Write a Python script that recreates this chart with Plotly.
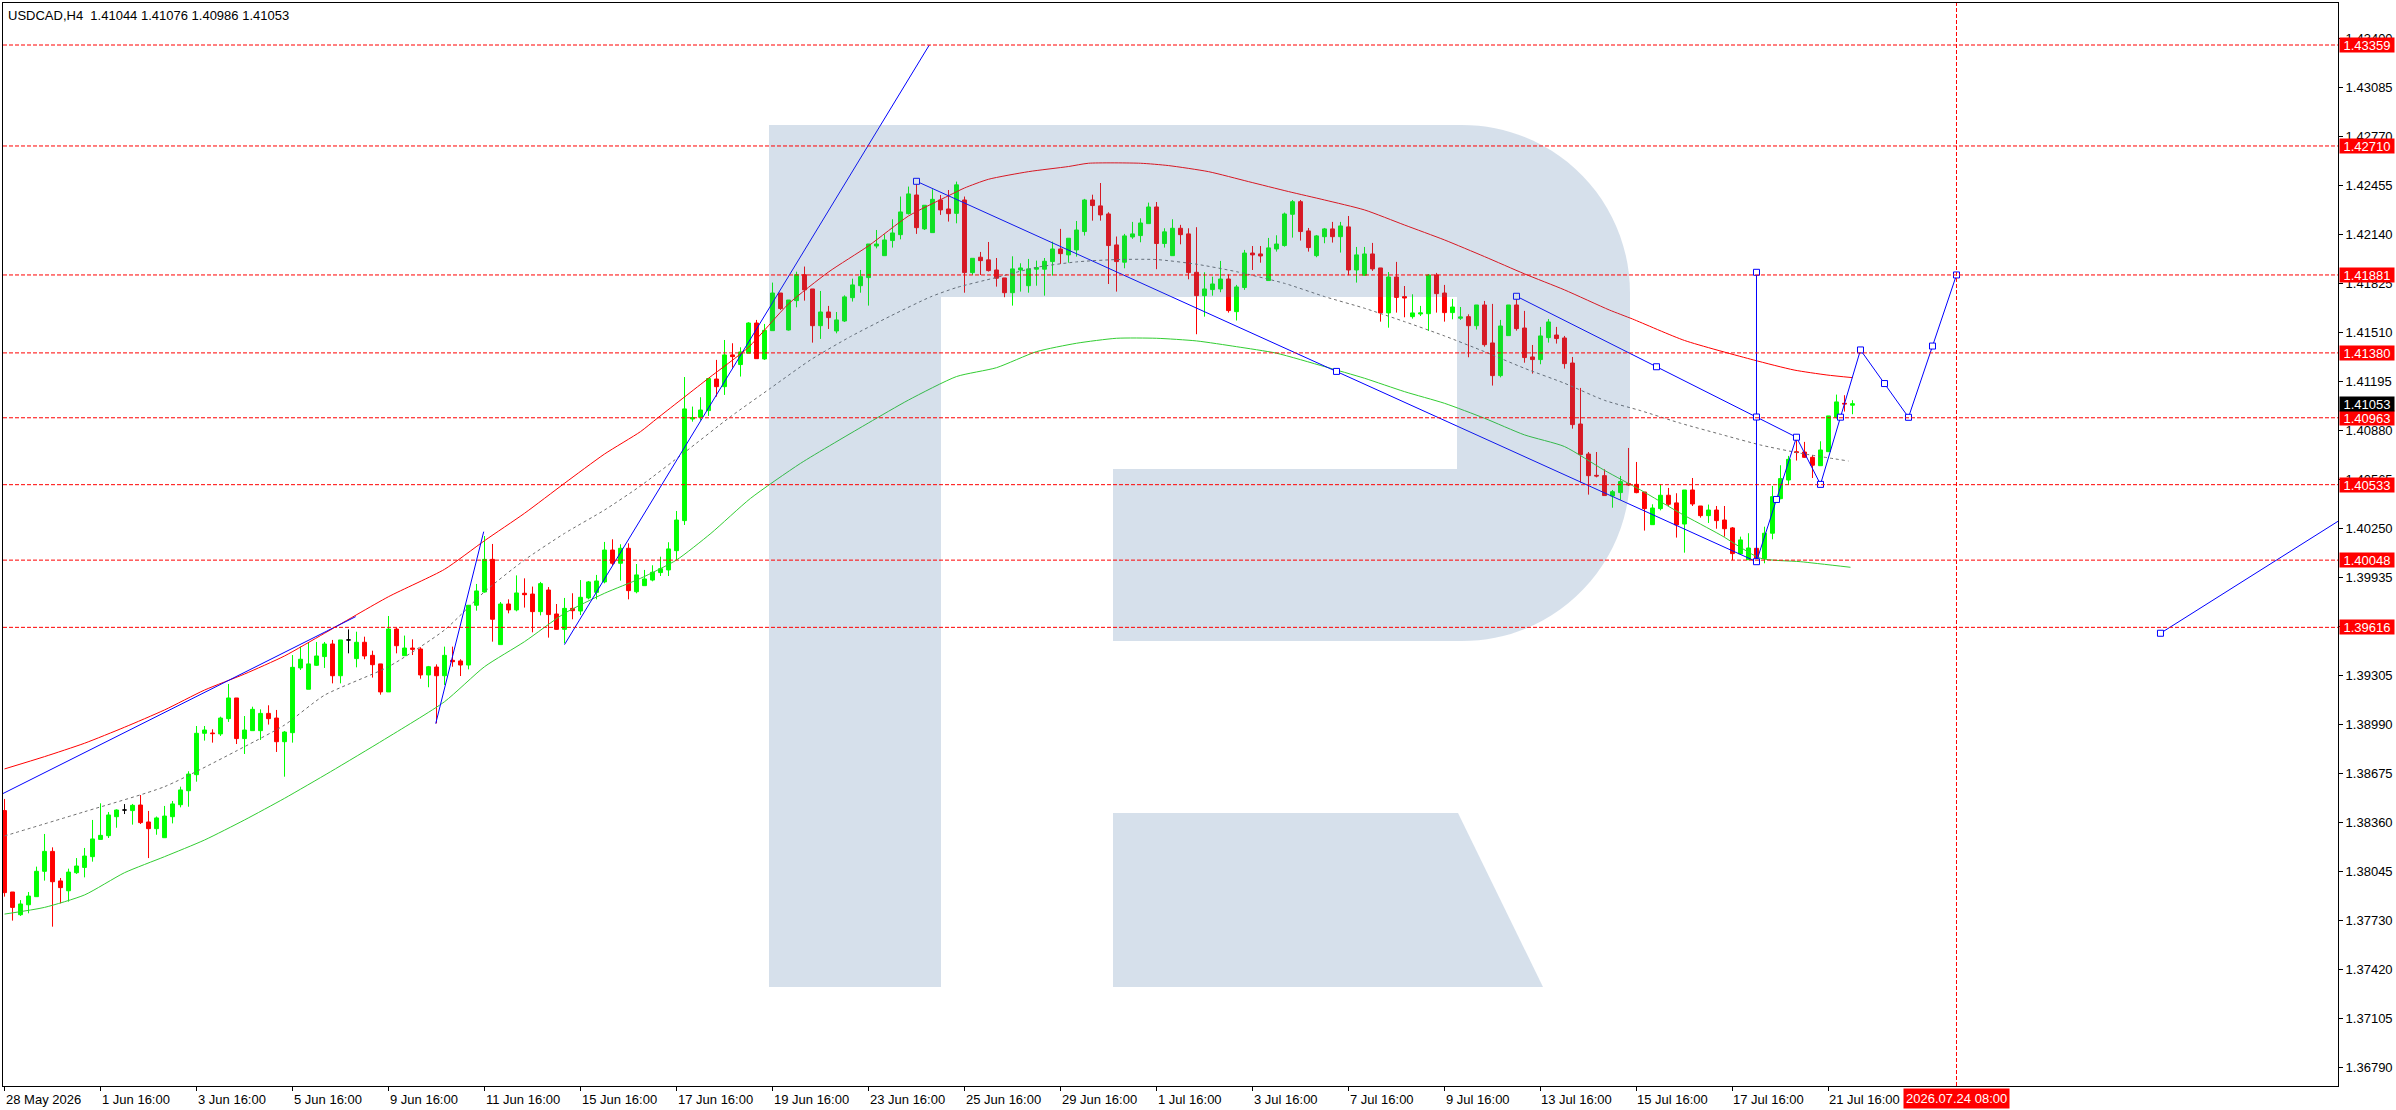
import plotly.graph_objects as go

# ---------------- canvas / layout geometry ----------------
W, H = 2396, 1110
ML, MR, MT, MB = 3, 58, 3, 24
FONT = "Liberation Sans, Arial, sans-serif"

# ---------------- data ----------------
symbol_header = "USDCAD,H4\u00a0\u00a01.41044 1.41076 1.40986 1.41053"

open_ = [1.38438, 1.37915, 1.37769, 1.37833, 1.37885, 1.38048, 1.38176, 1.37986, 1.37923, 1.38039,
         1.38073, 1.38142, 1.38253, 1.38277, 1.38399, 1.38442, 1.38438, 1.38474, 1.38365, 1.38322,
         1.38264, 1.38399, 1.38476, 1.38566, 1.38669, 1.38935, 1.38937, 1.38931, 1.39029, 1.39162,
         1.38901, 1.38952, 1.38952, 1.39063, 1.39033, 1.38881, 1.38939, 1.39355, 1.39218, 1.39372,
         1.39428, 1.39509, 1.39305, 1.39535, 1.39415, 1.39520, 1.39436, 1.39381, 1.39201, 1.39605,
         1.39434, 1.39483, 1.39477, 1.39310, 1.39361, 1.39305, 1.39404, 1.39400, 1.39374, 1.39758,
         1.39843, 1.40053, 1.39505, 1.39766, 1.39728, 1.39835, 1.39830, 1.39717, 1.39856, 1.39702,
         1.39603, 1.39738, 1.39721, 1.39805, 1.39841, 1.39908, 1.40113, 1.40028, 1.40124, 1.39845,
         1.39884, 1.39920, 1.39968, 1.39985, 1.40109, 1.40302, 1.40955, 1.40966, 1.41009, 1.41212,
         1.41163, 1.41367, 1.41305, 1.41378, 1.41572, 1.41341, 1.41523, 1.41765, 1.41527, 1.41716,
         1.41883, 1.41791, 1.41555, 1.41643, 1.41521, 1.41585, 1.41735, 1.41812, 1.41864, 1.42067,
         1.42005, 1.42102, 1.42140, 1.42275, 1.42395, 1.42177, 1.42153, 1.42363, 1.42305, 1.42277,
         1.42363, 1.41896, 1.41995, 1.41978, 1.41913, 1.41862, 1.41767, 1.41913, 1.41812, 1.41918,
         1.41918, 1.41967, 1.42048, 1.42010, 1.42042, 1.42160, 1.42363, 1.42325, 1.42273, 1.42074,
         1.41963, 1.42125, 1.42134, 1.42211, 1.42318, 1.42083, 1.42005, 1.42181, 1.42145, 1.41898,
         1.41748, 1.41787, 1.41791, 1.41855, 1.41645, 1.41800, 1.42022, 1.42016, 1.41845, 1.42048,
         1.42070, 1.42271, 1.42352, 1.42164, 1.42005, 1.42127, 1.42177, 1.42127, 1.42190, 1.41913,
         1.41879, 1.42016, 1.41926, 1.41637, 1.41868, 1.41742, 1.41613, 1.41630, 1.41632, 1.41881,
         1.41765, 1.41639, 1.41603, 1.41613, 1.41555, 1.41688, 1.41444, 1.41234, 1.41491, 1.41688,
         1.41540, 1.41354, 1.41337, 1.41478, 1.41495, 1.41476, 1.41315, 1.40923, 1.40730, 1.40593,
         1.40591, 1.40460, 1.40482, 1.40540, 1.40535, 1.40486, 1.40276, 1.40379, 1.40465, 1.40416,
         1.40280, 1.40499, 1.40396, 1.40334, 1.40370, 1.40306, 1.40255, 1.40088, 1.40051, 1.40124,
         1.40058, 1.40221, 1.40443, 1.40563, 1.40745, 1.40743, 1.40709, 1.40655, 1.40745, 1.40966,
         1.41056, 1.41044]
high = [1.38513, 1.37915, 1.37863, 1.37915, 1.38078, 1.38288, 1.38202, 1.38005, 1.38065, 1.38133,
        1.38198, 1.38378, 1.38485, 1.38429, 1.38446, 1.38480, 1.38481, 1.38538, 1.38436, 1.38400,
        1.38468, 1.38500, 1.38592, 1.38691, 1.38982, 1.38982, 1.38961, 1.39042, 1.39252, 1.39162,
        1.39046, 1.39106, 1.39089, 1.39115, 1.39085, 1.38950, 1.39438, 1.39492, 1.39518, 1.39522,
        1.39522, 1.39535, 1.39535, 1.39603, 1.39588, 1.39556, 1.39466, 1.39381, 1.39689, 1.39612,
        1.39563, 1.39539, 1.39488, 1.39368, 1.39378, 1.39492, 1.39492, 1.39411, 1.39758, 1.39895,
        1.40203, 1.40152, 1.39779, 1.39796, 1.39950, 1.39931, 1.39878, 1.39908, 1.39875, 1.39766,
        1.39805, 1.39835, 1.39920, 1.39914, 1.39953, 1.40165, 1.40182, 1.40150, 1.40156, 1.40023,
        1.39985, 1.40015, 1.40070, 1.40163, 1.40364, 1.41225, 1.41035, 1.41095, 1.41215, 1.41335,
        1.41463, 1.41442, 1.41416, 1.41577, 1.41592, 1.41566, 1.41832, 1.41765, 1.41720, 1.41902,
        1.41935, 1.41791, 1.41778, 1.41682, 1.41643, 1.41750, 1.41857, 1.41913, 1.42080, 1.42170,
        1.42142, 1.42239, 1.42385, 1.42449, 1.42483, 1.42329, 1.42432, 1.42395, 1.42427, 1.42481,
        1.42385, 1.41988, 1.42029, 1.42093, 1.41990, 1.41862, 1.42001, 1.41956, 1.41984, 1.41973,
        1.41990, 1.42095, 1.42177, 1.42117, 1.42228, 1.42370, 1.42397, 1.42472, 1.42284, 1.42128,
        1.42145, 1.42222, 1.42245, 1.42346, 1.42350, 1.42181, 1.42239, 1.42203, 1.42181, 1.42188,
        1.41898, 1.41870, 1.41971, 1.41885, 1.41817, 1.42042, 1.42067, 1.42067, 1.42119, 1.42136,
        1.42282, 1.42363, 1.42363, 1.42183, 1.42138, 1.42183, 1.42222, 1.42222, 1.42260, 1.42061,
        1.42061, 1.42087, 1.41926, 1.41900, 1.41965, 1.41810, 1.41757, 1.41682, 1.41887, 1.41894,
        1.41817, 1.41727, 1.41675, 1.41628, 1.41688, 1.41714, 1.41695, 1.41592, 1.41688, 1.41757,
        1.41650, 1.41431, 1.41547, 1.41598, 1.41547, 1.41489, 1.41354, 1.41155, 1.40743, 1.40743,
        1.40632, 1.40499, 1.40589, 1.40769, 1.40679, 1.40486, 1.40407, 1.40533, 1.40512, 1.40478,
        1.40499, 1.40576, 1.40396, 1.40405, 1.40396, 1.40396, 1.40261, 1.40199, 1.40221, 1.40124,
        1.40263, 1.40525, 1.40658, 1.40718, 1.40833, 1.40808, 1.40722, 1.40812, 1.40975, 1.41112,
        1.41108, 1.41076]
low = [1.37885, 1.37731, 1.37761, 1.37778, 1.37885, 1.37988, 1.37692, 1.37842, 1.37853, 1.38031,
       1.38009, 1.38110, 1.38253, 1.38262, 1.38328, 1.38416, 1.38348, 1.38352, 1.38133, 1.38283,
       1.38264, 1.38356, 1.38459, 1.38463, 1.38624, 1.38888, 1.38875, 1.38918, 1.39008, 1.38866,
       1.38802, 1.38952, 1.38892, 1.38991, 1.38815, 1.38656, 1.38875, 1.39342, 1.39218, 1.39368,
       1.39355, 1.39256, 1.39256, 1.39449, 1.39359, 1.39411, 1.39293, 1.39183, 1.39201, 1.39449,
       1.39434, 1.39438, 1.39286, 1.39231, 1.38999, 1.39246, 1.39363, 1.39303, 1.39346, 1.39723,
       1.39839, 1.39524, 1.39505, 1.39706, 1.39719, 1.39743, 1.39584, 1.39693, 1.39550, 1.39599,
       1.39513, 1.39668, 1.39695, 1.39796, 1.39796, 1.39899, 1.40015, 1.39916, 1.39796, 1.39835,
       1.39884, 1.39912, 1.39946, 1.39946, 1.40049, 1.40274, 1.40938, 1.40945, 1.40975, 1.41099,
       1.41110, 1.41285, 1.41228, 1.41378, 1.41343, 1.41335, 1.41523, 1.41656, 1.41523, 1.41673,
       1.41716, 1.41446, 1.41470, 1.41534, 1.41506, 1.41579, 1.41710, 1.41767, 1.41684, 1.42052,
       1.42005, 1.42057, 1.42110, 1.42269, 1.42145, 1.42170, 1.42153, 1.42267, 1.42224, 1.42213,
       1.41767, 1.41881, 1.41881, 1.41903, 1.41806, 1.41738, 1.41684, 1.41774, 1.41767, 1.41812,
       1.41748, 1.41877, 1.41952, 1.41960, 1.41999, 1.42134, 1.42230, 1.42230, 1.41823, 1.41774,
       1.41924, 1.42113, 1.42091, 1.42211, 1.41918, 1.42057, 1.42005, 1.42078, 1.41853, 1.41500,
       1.41613, 1.41748, 1.41770, 1.41639, 1.41588, 1.41785, 1.41913, 1.41960, 1.41845, 1.42031,
       1.42063, 1.42121, 1.42102, 1.42031, 1.41995, 1.42085, 1.42089, 1.42025, 1.41879, 1.41832,
       1.41875, 1.41907, 1.41581, 1.41542, 1.41639, 1.41609, 1.41600, 1.41617, 1.41521, 1.41639,
       1.41581, 1.41596, 1.41592, 1.41352, 1.41530, 1.41420, 1.41170, 1.41223, 1.41491, 1.41523,
       1.41317, 1.41247, 1.41307, 1.41446, 1.41440, 1.41279, 1.40893, 1.40546, 1.40469, 1.40580,
       1.40463, 1.40385, 1.40435, 1.40525, 1.40478, 1.40238, 1.40276, 1.40368, 1.40396, 1.40193,
       1.40096, 1.40396, 1.40321, 1.40287, 1.40250, 1.40199, 1.40047, 1.40081, 1.40051, 1.40038,
       1.40028, 1.40182, 1.40439, 1.40531, 1.40688, 1.40705, 1.40576, 1.40655, 1.40745, 1.40958,
       1.41003, 1.40986]
close = [1.37911, 1.37816, 1.37838, 1.37889, 1.38048, 1.38176, 1.37981, 1.37943, 1.38043, 1.38082,
         1.38146, 1.38256, 1.38279, 1.38410, 1.38442, 1.38442, 1.38472, 1.38361, 1.38322, 1.38391,
         1.38403, 1.38481, 1.38571, 1.38673, 1.38935, 1.38956, 1.38933, 1.39033, 1.39162, 1.38901,
         1.38956, 1.39089, 1.39063, 1.39029, 1.38881, 1.38943, 1.39359, 1.39411, 1.39381, 1.39432,
         1.39509, 1.39305, 1.39535, 1.39535, 1.39520, 1.39432, 1.39376, 1.39201, 1.39605, 1.39498,
         1.39483, 1.39475, 1.39310, 1.39363, 1.39305, 1.39436, 1.39395, 1.39374, 1.39758, 1.39850,
         1.40053, 1.39668, 1.39766, 1.39728, 1.39837, 1.39826, 1.39717, 1.39897, 1.39698, 1.39603,
         1.39738, 1.39723, 1.39809, 1.39908, 1.39914, 1.40113, 1.40028, 1.40124, 1.39852, 1.39953,
         1.39927, 1.39970, 1.39993, 1.40120, 1.40306, 1.41020, 1.40964, 1.41013, 1.41215, 1.41163,
         1.41367, 1.41356, 1.41386, 1.41572, 1.41343, 1.41525, 1.41765, 1.41665, 1.41720, 1.41883,
         1.41785, 1.41555, 1.41643, 1.41607, 1.41592, 1.41740, 1.41817, 1.41870, 1.42080, 1.42080,
         1.42106, 1.42151, 1.42286, 1.42402, 1.42185, 1.42329, 1.42367, 1.42299, 1.42275, 1.42460,
         1.41896, 1.41988, 1.41973, 1.41909, 1.41860, 1.41767, 1.41920, 1.41926, 1.41920, 1.41928,
         1.41969, 1.42048, 1.42018, 1.42117, 1.42170, 1.42363, 1.42327, 1.42267, 1.42070, 1.41967,
         1.42132, 1.42145, 1.42215, 1.42318, 1.42083, 1.42158, 1.42181, 1.42140, 1.41896, 1.41748,
         1.41791, 1.41823, 1.41855, 1.41652, 1.41804, 1.42022, 1.42010, 1.42003, 1.42055, 1.42080,
         1.42273, 1.42352, 1.42160, 1.42057, 1.42132, 1.42177, 1.42127, 1.42196, 1.41913, 1.42010,
         1.42016, 1.41920, 1.41637, 1.41868, 1.41737, 1.41733, 1.41637, 1.41637, 1.41881, 1.41761,
         1.41639, 1.41675, 1.41611, 1.41555, 1.41688, 1.41433, 1.41234, 1.41553, 1.41688, 1.41536,
         1.41350, 1.41337, 1.41489, 1.41579, 1.41472, 1.41311, 1.40919, 1.40726, 1.40591, 1.40589,
         1.40463, 1.40488, 1.40553, 1.40531, 1.40482, 1.40379, 1.40383, 1.40465, 1.40407, 1.40274,
         1.40499, 1.40409, 1.40334, 1.40370, 1.40302, 1.40250, 1.40090, 1.40178, 1.40126, 1.40060,
         1.40221, 1.40456, 1.40572, 1.40696, 1.40740, 1.40709, 1.40658, 1.40756, 1.40975, 1.41065,
         1.41052, 1.41053]
doji_bars = [15, 43]

# time axis (bar index -> label)
time_tick_bars = [0, 12, 24, 36, 48, 60, 72, 84, 96, 108, 120, 132, 144, 156, 168, 180, 192, 204, 216, 228]
time_tick_labels = ["28 May 2026", "1 Jun 16:00", "3 Jun 16:00", "5 Jun 16:00", "9 Jun 16:00",
                    "11 Jun 16:00", "15 Jun 16:00", "17 Jun 16:00", "19 Jun 16:00", "23 Jun 16:00",
                    "25 Jun 16:00", "29 Jun 16:00", "1 Jul 16:00", "3 Jul 16:00", "7 Jul 16:00",
                    "9 Jul 16:00", "13 Jul 16:00", "15 Jul 16:00", "17 Jul 16:00", "21 Jul 16:00"]
target_bar = 244
target_label = "2026.07.24 08:00"

# price axis
price_tick_labels = ["1.43400", "1.43085", "1.42770", "1.42455", "1.42140", "1.41825", "1.41510",
                     "1.41195", "1.40880", "1.40565", "1.40250", "1.39935", "1.39620", "1.39305",
                     "1.38990", "1.38675", "1.38360", "1.38045", "1.37730", "1.37420", "1.37105",
                     "1.36790"]
price_range = [1.36668, 1.43629]
bar_range = [-0.19, 291.69]

levels = [1.43359, 1.42710, 1.41881, 1.41380, 1.40963, 1.40533, 1.40048, 1.39616]
last_price = 1.41053

# moving averages (sampled from chart)
ma_red_bar = [0, 5, 10, 15, 20, 25, 30, 35, 40, 48, 55, 60, 65, 70, 75, 79.5, 81.6, 88, 93, 98, 103,
              108, 113, 118, 120, 123, 128, 133, 135.5, 142, 145.5, 150.5, 155.5, 160.5, 165, 170,
              175, 180, 185, 190, 195, 200.6, 203.5, 210, 218.6, 223.7, 227.8, 231]
ma_red_val = [1.38706, 1.38785, 1.38871, 1.38974, 1.39085, 1.39213, 1.39316, 1.39432, 1.39578,
              1.39813, 1.39989, 1.40173, 1.40349, 1.40542, 1.40730, 1.40874, 1.40960, 1.41217,
              1.41416, 1.41695, 1.41900, 1.42068, 1.42260, 1.42390, 1.42440, 1.42496, 1.42545,
              1.42578, 1.42599, 1.42599, 1.42584, 1.42545, 1.42481, 1.42417, 1.42363, 1.42299,
              1.42202, 1.42106, 1.41999, 1.41888, 1.41785, 1.41656, 1.41598, 1.41460, 1.41335,
              1.41270, 1.41238, 1.41221]
ma_grey_bar = [0, 10, 20, 30, 35, 40, 48, 55, 60, 65, 70, 75, 79.5, 85, 90.75, 95.75, 100.75, 105.75,
               110.75, 115.75, 119, 124, 129, 134, 139, 144, 149, 154, 160, 165, 170, 175, 180, 185,
               190, 195, 200, 204.5, 209.5, 214.5, 219.5, 224.5, 230.5]
ma_grey_val = [1.38275, 1.38431, 1.38592, 1.38849, 1.38988, 1.39180, 1.39363, 1.39599, 1.39845,
               1.40049, 1.40220, 1.40370, 1.40525, 1.40740, 1.40970, 1.41153, 1.41335, 1.41485,
               1.41617, 1.41740, 1.41800, 1.41865, 1.41930, 1.41965, 1.41980, 1.41980, 1.41950,
               1.41902, 1.41827, 1.41742, 1.41667, 1.41581, 1.41489, 1.41388, 1.41281, 1.41185,
               1.41075, 1.41009, 1.40928, 1.40857, 1.40788, 1.40735, 1.40685]
ma_green_bar = [0, 5, 10, 15, 20, 25, 30, 35, 40.75, 47.5, 55, 60, 65, 70, 75, 79.5, 84, 88.3, 93.25,
                99.5, 108, 113, 119, 124, 129, 134, 139, 144, 149, 154, 159, 165, 170, 175, 180, 185,
                190, 195, 200, 204.5, 209.5, 214.5, 219.5, 224.5, 230.75]
ma_green_val = [1.37773, 1.37816, 1.37896, 1.38039, 1.38142, 1.38249, 1.38378, 1.38517, 1.38688,
                1.38896, 1.39138, 1.39363, 1.39524, 1.39706, 1.39835, 1.39931, 1.40049, 1.40220,
                1.40445, 1.40670, 1.40930, 1.41077, 1.41228, 1.41285, 1.41388, 1.41442, 1.41474,
                1.41474, 1.41457, 1.41420, 1.41378, 1.41292, 1.41217, 1.41131, 1.41056, 1.40960,
                1.40853, 1.40778, 1.40625, 1.40499, 1.40349, 1.40210, 1.40060, 1.40038, 1.40002]

# drawn analysis objects (bar, price)
trend_up_bar, trend_up_val = [-1, 43.9], [1.38527, 1.39685]
impulse_bar, impulse_val = [53.9, 59.9], [1.38997, 1.40231]
trend_steep_bar, trend_steep_val = [70, 115.6], [1.39505, 1.43359]
chan_low_bar, chan_low_val = [114, 219], [1.42483, 1.40038]
chan_up_bar, chan_up_val = [189, 224], [1.41744, 1.40838]
vert_bar, vert_val = [219, 219], [1.40038, 1.41898]
forecast_bar = [219, 224, 227, 232, 238, 244]
forecast_val = [1.40038, 1.40838, 1.40535, 1.41399, 1.40966, 1.41881]
far_bar, far_val = [269.5, 291.7], [1.39578, 1.40298]
anchor_bar = [114, 166.5, 219, 189, 206.5, 224, 219, 219, 221.5, 227, 229.5, 232, 235, 238, 241, 244, 269.5]
anchor_val = [1.42483, 1.41261, 1.40038, 1.41744, 1.41291, 1.40838, 1.40968, 1.41898, 1.40438,
              1.40535, 1.40967, 1.41399, 1.41183, 1.40966, 1.41424, 1.41881, 1.39578]

# ---------------- figure ----------------
fig = go.Figure()

n = len(close)
norm = [i for i in range(n) if i not in doji_bars]
fig.add_trace(go.Candlestick(
    x=norm, open=[open_[i] for i in norm], high=[high[i] for i in norm],
    low=[low[i] for i in norm], close=[close[i] for i in norm],
    increasing=dict(line=dict(color="#00ff00", width=1), fillcolor="#00ff00"),
    decreasing=dict(line=dict(color="#ff0000", width=1), fillcolor="#ff0000"),
    whiskerwidth=0, hoverinfo="skip", showlegend=False))
fig.add_trace(go.Candlestick(
    x=doji_bars, open=[open_[i] for i in doji_bars], high=[high[i] for i in doji_bars],
    low=[low[i] for i in doji_bars], close=[close[i] for i in doji_bars],
    increasing=dict(line=dict(color="#000000", width=1), fillcolor="#000000"),
    decreasing=dict(line=dict(color="#000000", width=1), fillcolor="#000000"),
    whiskerwidth=0, hoverinfo="skip", showlegend=False))

fig.add_trace(go.Scatter(x=ma_red_bar, y=ma_red_val, mode="lines", line=dict(color="#ff0000", width=1, shape="spline", smoothing=0.6), hoverinfo="skip"))
fig.add_trace(go.Scatter(x=ma_green_bar, y=ma_green_val, mode="lines", line=dict(color="#32cd32", width=1, shape="spline", smoothing=0.6), hoverinfo="skip"))
fig.add_trace(go.Scatter(x=ma_grey_bar, y=ma_grey_val, mode="lines", line=dict(color="#6e6e6e", width=1, dash="3px,3px", shape="spline", smoothing=0.6), hoverinfo="skip"))

blue = dict(color="#0000ff", width=1)
for bx, by in [(trend_up_bar, trend_up_val), (impulse_bar, impulse_val), (trend_steep_bar, trend_steep_val),
               (chan_low_bar, chan_low_val), (chan_up_bar, chan_up_val), (vert_bar, vert_val),
               (forecast_bar, forecast_val), (far_bar, far_val)]:
    fig.add_trace(go.Scatter(x=bx, y=by, mode="lines", line=blue, hoverinfo="skip"))
fig.add_trace(go.Scatter(x=anchor_bar, y=anchor_val, mode="markers",
                         marker=dict(symbol="square", size=6, color="white", line=dict(color="#0000ff", width=1)),
                         hoverinfo="skip", cliponaxis=False))

# ---------------- logo watermark (pixel -> paper) ----------------
PW, PH = W - ML - MR, H - MT - MB
def P(x, y):
    return f"{(x - ML) / PW:.5f},{(H - MB - y) / PH:.5f}"

r_path = ("M" + P(769, 125) + " L" + P(1462, 125) + " C" + P(1555, 125) + " " + P(1630, 200) + " " + P(1630, 293) +
          " L" + P(1630, 473) + " C" + P(1630, 566) + " " + P(1555, 641) + " " + P(1462, 641) +
          " L" + P(1113, 641) + " L" + P(1113, 469) + " L" + P(1457, 469) + " L" + P(1457, 297) +
          " L" + P(941, 297) + " L" + P(941, 987) + " L" + P(769, 987) + " Z")
leg_path = "M" + P(1113, 813) + " L" + P(1458, 813) + " L" + P(1543, 987) + " L" + P(1113, 987) + " Z"
logo_fill = "rgba(67,112,164,0.22)"
shapes = []
for pth in (r_path, leg_path):
    shapes.append(dict(type="path", path=pth, xref="paper", yref="paper", fillcolor=logo_fill,
                       line=dict(width=0), layer="above"))

for lv in levels:
    shapes.append(dict(type="line", xref="paper", x0=0, x1=1, yref="y", y0=lv, y1=lv,
                       line=dict(color="#ff0000", width=1, dash="4px,2px"), layer="above"))
shapes.append(dict(type="line", xref="x", x0=target_bar, x1=target_bar, yref="paper", y0=0, y1=1,
                   line=dict(color="#ff0000", width=1, dash="4px,2px"), layer="above"))

# ---------------- annotations ----------------
ann = []
ann.append(dict(text=symbol_header, xref="paper", yref="paper", x=0, y=1, xanchor="left", yanchor="top",
                xshift=3, yshift=-3, showarrow=False, font=dict(family=FONT, size=13, color="black")))
for b, t in zip(time_tick_bars, time_tick_labels):
    ann.append(dict(text=t, xref="x", yref="paper", x=b, y=0, xanchor="left", yanchor="top",
                    xshift=-1, yshift=-4, showarrow=False, font=dict(family=FONT, size=13, color="black")))
ann.append(dict(text=target_label, xref="x", yref="paper", x=target_bar, y=0, xanchor="center", yanchor="top",
                yshift=-2, showarrow=False, bgcolor="#ff0000", borderpad=2,
                font=dict(family=FONT, size=13, color="white")))
for lv in levels:
    ann.append(dict(text=f"{lv:.5f}", xref="paper", yref="y", x=1, y=lv, xanchor="left", yanchor="middle",
                    xshift=1, showarrow=False, bgcolor="#ff0000", width=54, height=14, borderpad=0,
                    font=dict(family=FONT, size=13, color="white")))
ann.append(dict(text=f"{last_price:.5f}", xref="paper", yref="y", x=1, y=last_price, xanchor="left",
                yanchor="middle", xshift=1, showarrow=False, bgcolor="#000000", width=54, height=14,
                borderpad=0, font=dict(family=FONT, size=13, color="white")))

fig.update_layout(
    width=W, height=H, margin=dict(l=ML, r=MR, t=MT, b=MB),
    paper_bgcolor="white", plot_bgcolor="white", showlegend=False,
    shapes=shapes, annotations=ann, boxgap=0.3, boxgroupgap=0.3,
    xaxis=dict(range=bar_range, showgrid=False, zeroline=False, showline=True, mirror=True,
               linecolor="black", linewidth=1, ticks="outside", ticklen=4, tickcolor="black",
               tickvals=time_tick_bars, showticklabels=False, rangeslider=dict(visible=False),
               fixedrange=True),
    yaxis=dict(range=price_range, side="right", showgrid=False, zeroline=False, showline=True, mirror=True,
               linecolor="black", linewidth=1, ticks="outside", ticklen=4, tickcolor="black",
               tickvals=[float(t) for t in price_tick_labels], ticktext=price_tick_labels,
               tickfont=dict(family=FONT, size=13, color="black"), fixedrange=True),
)

fig.write_html("out.html", config={"displayModeBar": False},
               post_script="document.body.style.margin='0';document.body.style.overflow='hidden';"
                           "document.documentElement.style.overflow='hidden';")
